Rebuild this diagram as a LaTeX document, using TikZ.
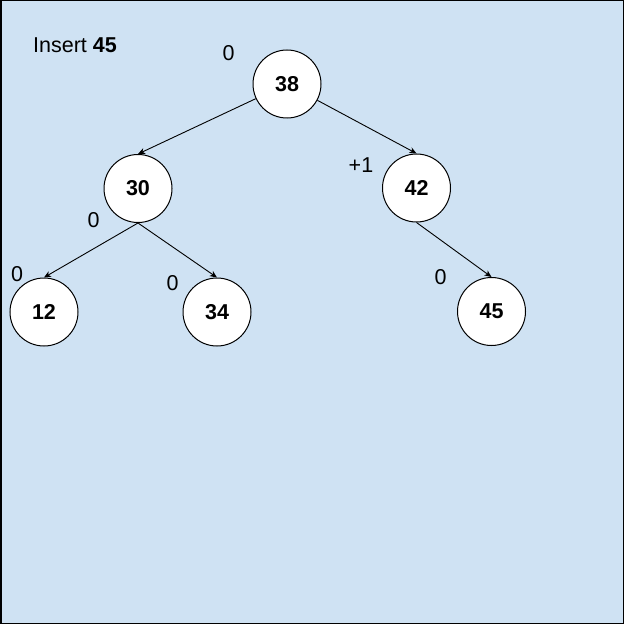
\documentclass[tikz,border=0pt]{standalone}
\usepackage{fontspec}
\setmainfont{Liberation Sans}
\usetikzlibrary{arrows.meta}
\definecolor{bgblue}{RGB}{207,226,243}
\begin{document}
\begin{tikzpicture}[x=1bp,y=-1bp,
  treenode/.style={circle,draw=black,line width=1bp,fill=white,minimum size=68bp,inner sep=0pt,
    font=\fontsize{21.5bp}{26bp}\selectfont\bfseries},
  balance/.style={inner sep=0pt,font=\fontsize{21.5bp}{26bp}\selectfont},
  link/.style={draw=black,line width=0.9bp,-{Stealth[length=7bp,width=6bp,inset=2bp]}}]
  % canvas
  \path[fill=bgblue,draw=black,line width=1.5bp] (0.75,0.75) rectangle (623.25,623.25);
  \useasboundingbox (0,0) rectangle (624,624);
  % title
  \node[balance,anchor=west] (title) at (33,45) {Insert \textbf{45}};
  % tree nodes
  \node[treenode] (n38) at (287,84) {38};
  \node[treenode] (n30) at (138,188.5) {30};
  \node[treenode] (n42) at (416.5,188) {42};
  \node[treenode] (n12) at (44,312) {12};
  \node[treenode] (n34) at (217,312) {34};
  \node[treenode] (n45) at (491.5,311.5) {45};
  % balance factors
  \node[balance] (b38) at (228.5,53) {0};
  \node[balance] (b42) at (361,165) {+1};
  \node[balance] (b30) at (93.5,220) {0};
  \node[balance] (b12) at (17,274) {0};
  \node[balance] (b34) at (172.5,283.5) {0};
  \node[balance] (b45) at (440.5,277.5) {0};
  % edges
  \draw[link] (n38) -- (n30.north);
  \draw[link] (n38) -- (n42.north);
  \draw[link] (n30.south) -- (n12.north);
  \draw[link] (n30.south) -- (n34.north);
  \draw[link] (n42.south) -- (n45.north);
\end{tikzpicture}
\end{document}
